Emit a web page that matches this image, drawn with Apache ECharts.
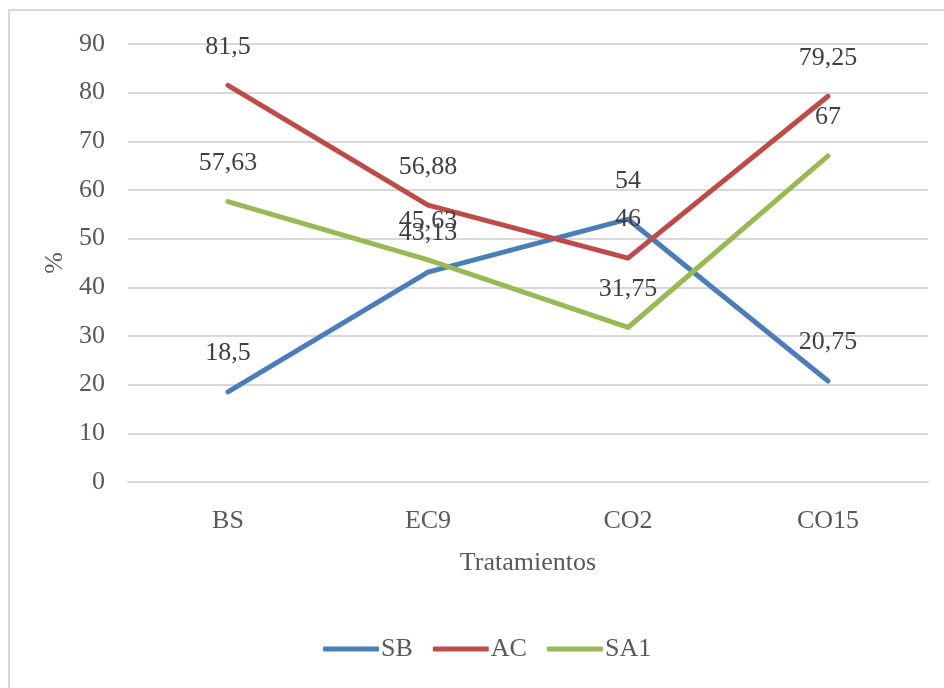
<!DOCTYPE html>
<html>
<head>
<meta charset="utf-8">
<script src="https://cdn.jsdelivr.net/npm/echarts@6/dist/echarts.min.js"></script>
<style>
  html, body { margin: 0; padding: 0; background: #fff; }
  #chart { width: 944px; height: 688px; }
</style>
</head>
<body>
<div id="chart"></div>
<script>
// datos
const categories = ["BS", "EC9", "CO2", "CO15"];
const sbValues = [18.5, 43.13, 54, 20.75];
const acValues = [81.5, 56.88, 46, 79.25];
const sa1Values = [57.63, 45.63, 31.75, 67];
const seriesNames = ["SB", "AC", "SA1"];
const colors = ["#4a7ebb", "#be4b48", "#98b954"];

const font = "Liberation Serif";
const textColor = "#595959";
const fs = 26;

const makeSeries = (name, data, color) => ({
  name: name,
  type: "line",
  data: data,
  symbol: "circle",
  symbolSize: 1,
  color: color,
  lineStyle: { width: 5, color: color, cap: "round", join: "round" },
  itemStyle: { color: color },
  label: {
    show: true,
    position: "top",
    distance: 25,
    fontFamily: font,
    fontSize: fs,
    color: "#404040",
    formatter: (p) => String(p.value).replace(".", ","),
  },
  emphasis: { disabled: true },
});

const option = {
  animation: false,
  backgroundColor: "#fff",
  graphic: [
    {
      type: "rect",
      shape: { x: 9, y: 10, width: 980, height: 720 },
      style: { fill: "none", stroke: "#d9d9d9", lineWidth: 2 },
      silent: true,
      z: -1,
    },
  ],
  grid: { left: 128, right: 16, top: 44, bottom: 206 },
  legend: {
    bottom: 21,
    left: 318,
    icon: "roundRect",
    itemWidth: 56,
    itemHeight: 5,
    itemGap: 20,
    textStyle: { fontFamily: font, fontSize: fs, color: textColor, padding: [0, 0, 0, -3] },
    data: seriesNames,
  },
  xAxis: {
    type: "category",
    data: categories,
    boundaryGap: true,
    name: "Tratamientos",
    nameLocation: "middle",
    nameGap: 68,
    nameTextStyle: { fontFamily: font, fontSize: fs, color: textColor },
    axisLine: { lineStyle: { color: "#d9d9d9", width: 2 } },
    axisTick: { show: false },
    axisLabel: { fontFamily: font, fontSize: fs, color: textColor, margin: 26 },
  },
  yAxis: {
    type: "value",
    min: 0,
    max: 90,
    interval: 10,
    name: "%",
    nameLocation: "middle",
    nameGap: 58,
    nameRotate: 90,
    nameTextStyle: { fontFamily: font, fontSize: fs, color: textColor },
    axisLine: { show: false },
    axisTick: { show: false },
    axisLabel: { fontFamily: font, fontSize: fs, color: textColor, margin: 23 },
    splitLine: { lineStyle: { color: "#d9d9d9", width: 2 } },
  },
  series: [
    makeSeries(seriesNames[0], sbValues, colors[0]),
    makeSeries(seriesNames[1], acValues, colors[1]),
    makeSeries(seriesNames[2], sa1Values, colors[2]),
  ],
};

const myChart = echarts.init(document.getElementById("chart"));
myChart.setOption(option);
</script>
</body>
</html>
